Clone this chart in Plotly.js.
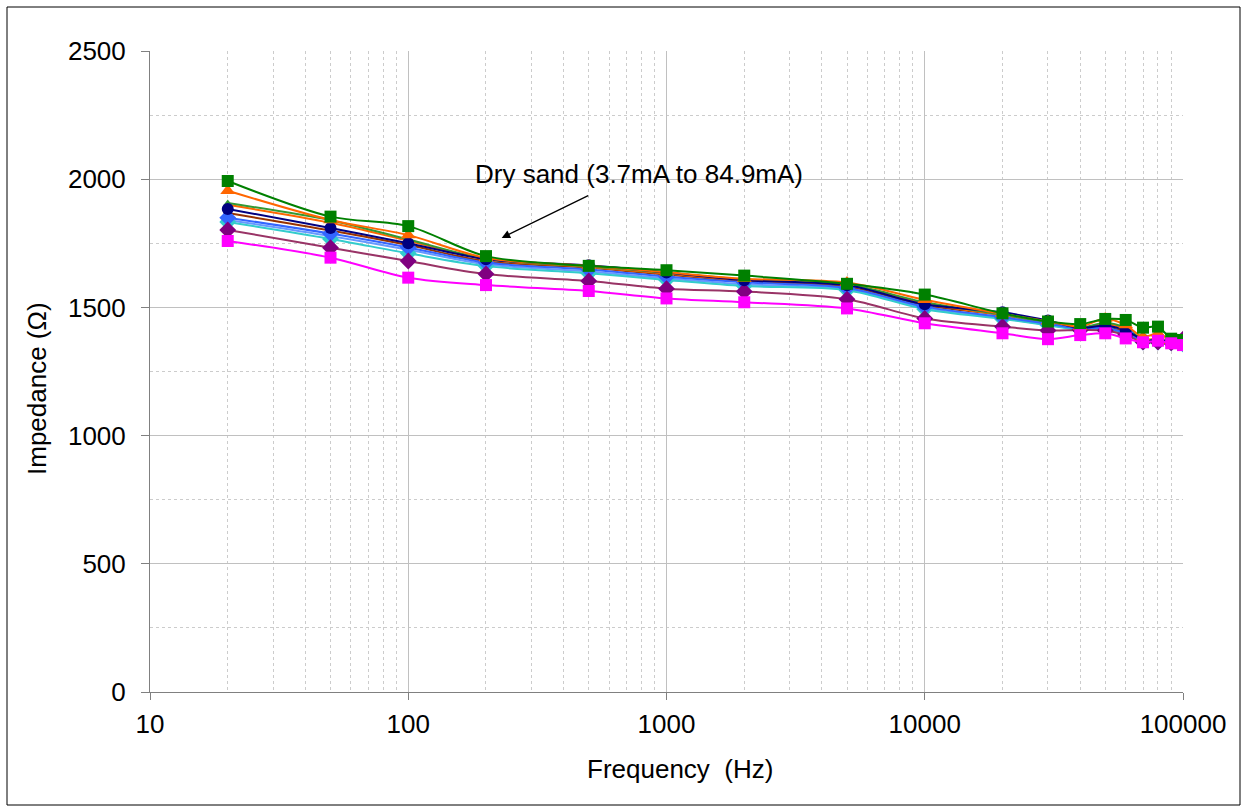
<!DOCTYPE html>
<html>
<head>
<meta charset="utf-8">
<script src="https://cdn.plot.ly/plotly-3.0.1.min.js"></script>
<style>
html,body{margin:0;padding:0;background:#fff;}
#chart{width:1247px;height:812px;}
</style>
</head>
<body>
<div id="chart"></div>
<script>
const freq = [20, 50, 100, 200, 500, 1000, 2000, 5000, 10000, 20000, 30000, 40000, 50000, 60000, 70000, 80000, 90000, 100000];

const sGreenSq   = [1993, 1854, 1817, 1700, 1662, 1645, 1624, 1592, 1550, 1477, 1445, 1435, 1455, 1451, 1421, 1425, 1378, 1373];
const sOrangeTri = [1955, 1841, 1782, 1693, 1662, 1637, 1612, 1597, 1530, 1475, 1446, 1425, 1457, 1431, 1385, 1399, 1370, 1365];
const sGreen2    = [1907, 1840, 1765, 1690, 1660, 1635, 1610, 1590, 1520, 1472, 1441, 1420, 1440, 1420, 1375, 1372, 1368, 1365];
const sOrange2   = [1900, 1830, 1760, 1688, 1658, 1632, 1606, 1586, 1515, 1470, 1440, 1418, 1435, 1415, 1372, 1380, 1368, 1362];
const sNavy      = [1884, 1810, 1750, 1688, 1664, 1636, 1606, 1586, 1512, 1481, 1449, 1420, 1428, 1410, 1375, 1370, 1368, 1362];
const sBrown     = [1868, 1800, 1743, 1680, 1655, 1628, 1601, 1581, 1508, 1470, 1440, 1415, 1420, 1405, 1370, 1368, 1365, 1360];
const sBlue      = [1850, 1788, 1734, 1675, 1648, 1620, 1598, 1576, 1503, 1462, 1436, 1418, 1420, 1400, 1370, 1368, 1365, 1360];
const sLightBlue = [1841, 1778, 1725, 1668, 1640, 1613, 1590, 1571, 1498, 1458, 1432, 1415, 1418, 1398, 1368, 1366, 1363, 1358];
const sCyan      = [1833, 1767, 1711, 1661, 1633, 1607, 1583, 1567, 1493, 1455, 1430, 1412, 1415, 1395, 1365, 1365, 1362, 1357];
const sPurple    = [1802, 1733, 1681, 1630, 1603, 1573, 1562, 1532, 1457, 1425, 1410, 1412, 1410, 1392, 1365, 1365, 1362, 1376];
const sMagenta   = [1759, 1694, 1616, 1587, 1564, 1535, 1520, 1496, 1438, 1399, 1376, 1392, 1399, 1379, 1364, 1370, 1360, 1353];

const xTickVals = [10, 100, 1000, 10000, 100000];
const xTickText = ['10', '100', '1000', '10000', '100000'];
const yTickVals = [0, 500, 1000, 1500, 2000, 2500];

function tr(y, lineColor, markerColor, symbol, size) {
  return {
    x: freq, y: y, type: 'scatter', mode: size > 0 ? 'lines+markers' : 'lines',
    line: {color: lineColor, width: 2, shape: 'spline', smoothing: 0.9},
    marker: {color: markerColor, symbol: symbol, size: size, line: {width: 0}},
    showlegend: false, hoverinfo: 'x+y'
  };
}

const data = [
  tr(sBrown, '#993300', '#993300', 'circle', 0),
  tr(sOrange2, '#FF6600', '#FF6600', 'circle', 0),
  tr(sGreen2, '#339933', '#339933', 'triangle-up', 7),
  tr(sLightBlue, '#6699FF', '#6699FF', 'circle', 9),
  tr(sCyan, '#33CCCC', '#33CCCC', 'diamond', 13),
  tr(sBlue, '#3366FF', '#3366FF', 'diamond', 13),
  tr(sPurple, '#993366', '#800080', 'diamond', 13),
  tr(sNavy, '#000080', '#000080', 'circle', 12),
  tr(sOrangeTri, '#FF6600', '#FF6600', 'triangle-up', 13),
  tr(sGreenSq, '#008000', '#008000', 'square', 12),
  tr(sMagenta, '#FF00FF', '#FF00FF', 'square', 12)
];

const font = {family: '"Liberation Sans", Arial, sans-serif', color: '#000'};
const F = (s) => Object.assign({size: s}, font);

const layout = {
  width: 1247, height: 812,
  paper_bgcolor: '#fff', plot_bgcolor: '#fff',
  margin: {l: 150, r: 64, t: 51, b: 120},
  font: F(26),
  xaxis: {
    type: 'log', range: [1, 5],
    tickvals: xTickVals, ticktext: xTickText,
    ticks: 'outside', ticklen: 7, tickcolor: '#808080',
    showline: true, linecolor: '#808080', linewidth: 1,
    showgrid: true, gridcolor: '#c0c0c0', gridwidth: 1,
    minor: {dtick: 'D1', showgrid: true, gridcolor: '#cccccc', griddash: '3px,3px', gridwidth: 1, ticks: ''},
    zeroline: false,
    tickfont: F(26), ticklabelstandoff: 2
  },
  yaxis: {
    range: [0, 2500], tickvals: yTickVals,
    ticks: 'outside', ticklen: 8, tickcolor: '#808080',
    showline: true, linecolor: '#808080', linewidth: 1,
    showgrid: true, gridcolor: '#c0c0c0', gridwidth: 1,
    minor: {dtick: 250, showgrid: true, gridcolor: '#cccccc', griddash: '3px,3px', gridwidth: 1, ticks: ''},
    zeroline: false,
    tickfont: F(26), ticklabelstandoff: 10
  },
  annotations: [
    {xref: 'paper', yref: 'paper', x: (639 - 150) / 1033, y: (692 - 174) / 641,
     text: 'Dry sand (3.7mA to 84.9mA)', showarrow: false, xanchor: 'center', yanchor: 'middle',
     font: F(26)},
    {xref: 'x', yref: 'y', x: Math.log10(230), y: 1771, text: '',
     showarrow: true, arrowhead: 2, arrowsize: 1.3, arrowwidth: 1.3, arrowcolor: '#000',
     axref: 'pixel', ayref: 'pixel', ax: 88, ay: -43},
    {xref: 'paper', yref: 'paper', x: (680 - 150) / 1033, y: (692 - 769) / 641,
     text: 'Frequency  (Hz)', showarrow: false, xanchor: 'center', yanchor: 'middle', font: F(26)},
    {xref: 'paper', yref: 'paper', x: (37 - 150) / 1033, y: (692 - 389) / 641,
     text: 'Impedance (Ω)', showarrow: false, xanchor: 'center', yanchor: 'middle', textangle: -90, font: F(26)}
  ],
  shapes: [
    {type: 'rect', xref: 'paper', yref: 'paper',
     x0: (7 - 150) / 1033, x1: (1240 - 150) / 1033,
     y0: (692 - 805) / 641, y1: (692 - 7) / 641,
     line: {color: '#000', width: 1}, fillcolor: 'rgba(0,0,0,0)', layer: 'below'}
  ]
};

Plotly.newPlot('chart', data, layout, {staticPlot: true, displayModeBar: false});
</script>
</body>
</html>
